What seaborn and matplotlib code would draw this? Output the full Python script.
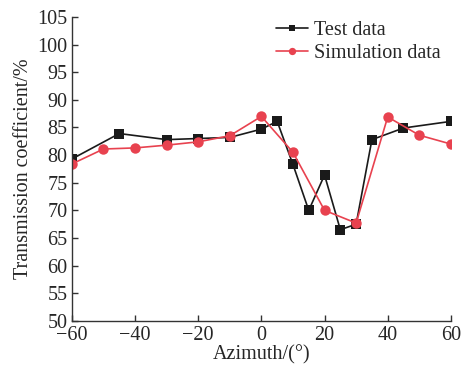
import numpy as np
import pandas as pd
import matplotlib
matplotlib.use('Agg')
import matplotlib.pyplot as plt
import seaborn as sns

# values
test_az = [-60, -45, -30, -20, -10, 0, 5, 10, 15, 20, 25, 30, 35, 45, 60]
test_val = [79.3, 83.9, 82.8, 83.0, 83.2, 84.7, 86.1, 78.3, 70.0, 76.4, 66.5, 67.5, 82.8, 84.9, 86.1]
sim_az = [-60, -50, -40, -30, -20, -10, 0, 10, 20, 30, 40, 50, 60]
sim_val = [78.4, 81.1, 81.3, 81.8, 82.4, 83.5, 87.0, 80.5, 70.0, 67.7, 86.9, 83.6, 82.0]

sns.set_style('ticks')
plt.rcParams['font.family'] = ['Liberation Serif', 'DejaVu Serif']
plt.rcParams['xtick.direction'] = 'in'
plt.rcParams['ytick.direction'] = 'in'

fig = plt.figure(figsize=(4.61, 3.68), dpi=100)
ax = fig.add_axes([0.156, 0.128, 0.822, 0.826])

sns.lineplot(x=test_az, y=test_val, ax=ax, color='#1a1a1a', marker='s', markersize=6.5,
             markeredgewidth=0, linewidth=1.2, label='Test data')
sns.lineplot(x=sim_az, y=sim_val, ax=ax, color='#e8424f', marker='o', markersize=7.5,
             markeredgewidth=0, linewidth=1.2, label='Simulation data')

ax.set_xlim(-60, 60)
ax.set_ylim(50, 105)
ax.set_xticks(np.arange(-60, 61, 20))
ax.set_yticks(np.arange(50, 106, 5))
ax.set_xticklabels([str(v).replace('-', '\u2212') for v in range(-60, 61, 20)])
ax.tick_params(labelsize=14.5, length=4, width=1, color='#333333', pad=3)
ax.tick_params(axis='x', pad=4)
for s in ['left', 'bottom']:
    ax.spines[s].set_color('#333333')
    ax.spines[s].set_linewidth(1)
sns.despine(ax=ax)
ax.set_xlabel('Azimuth/(°)', fontsize=14.5, labelpad=0)
ax.set_ylabel('Transmission coefficient/%', fontsize=14.5, labelpad=3)

leg = ax.legend(loc='upper right', frameon=False, fontsize=14.5, handlelength=1.6,
                handletextpad=0.3, borderaxespad=0.1, labelspacing=0.2,
                markerscale=0.7, bbox_to_anchor=(1.0, 1.02))

fig.savefig('out.png', dpi=100)
